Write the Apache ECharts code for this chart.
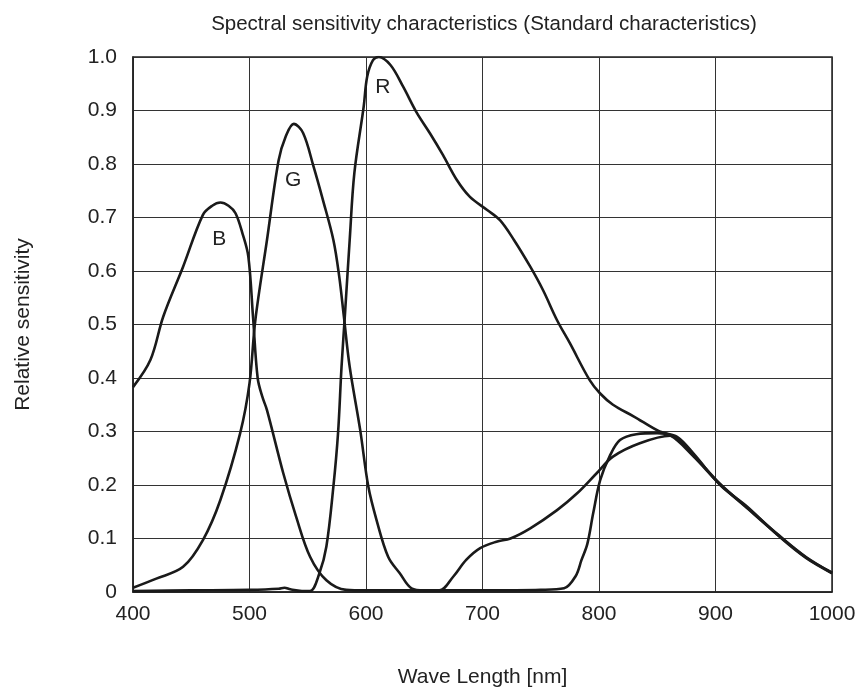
<!DOCTYPE html>
<html>
<head>
<meta charset="utf-8">
<script src="https://cdn.jsdelivr.net/npm/echarts@6/dist/echarts.min.js"></script>
<style>html,body{margin:0;padding:0;background:#fff}#c{width:859px;height:692px}</style>
</head>
<body>
<div id="c"></div>
<script>
// X tick labels (nm) and Y tick labels
const xTicks = [400, 500, 600, 700, 800, 900, 1000];
const yTicks = [0, 0.1, 0.2, 0.3, 0.4, 0.5, 0.6, 0.7, 0.8, 0.9, 1.0];

// B curve
const bX = [400,415,426,443,460,468,475,482,488,494,499,503,507,511,515,529,540,552,566,583,600,650,700,750,770,780,785,790,795,801,809,818,832,850,861,880,904,927,955,978,1000];
const bY = [0.383,0.434,0.515,0.608,0.705,0.722,0.728,0.722,0.708,0.67,0.627,0.515,0.40,0.365,0.34,0.222,0.141,0.066,0.022,0.004,0.003,0.003,0.003,0.004,0.007,0.03,0.06,0.09,0.147,0.209,0.253,0.284,0.295,0.297,0.293,0.256,0.201,0.157,0.104,0.064,0.036];

// G curve
const gX = [400,420,443,460,475,492,500,505,515,525,531,538,546,555,563,572,577,581,586,595,602,609,619,629,639,650,663,675,686,698,712,724,741,764,781,798,812,835,861,880,904,927,955,978,1000];
const gY = [0.008,0.025,0.047,0.097,0.172,0.297,0.39,0.508,0.658,0.807,0.851,0.875,0.858,0.795,0.733,0.658,0.59,0.515,0.421,0.303,0.197,0.135,0.066,0.035,0.007,0.003,0.003,0.029,0.06,0.082,0.094,0.1,0.119,0.153,0.184,0.222,0.253,0.278,0.292,0.258,0.202,0.158,0.105,0.065,0.036];

// R curve
const rX = [400,450,500,525,530,535,545,552,560,566,572,576,579,582,586,590,598,601,606,611,621,632,643,655,666,678,689,704,715,727,741,752,764,775,792,801,812,830,852,867,881,904,927,955,978,1000];
const rY = [0.002,0.003,0.004,0.006,0.008,0.005,0.002,0.002,0.035,0.085,0.197,0.297,0.421,0.521,0.658,0.783,0.907,0.963,0.994,1.0,0.985,0.944,0.898,0.857,0.817,0.77,0.739,0.714,0.695,0.658,0.608,0.564,0.508,0.465,0.396,0.371,0.35,0.328,0.30,0.29,0.259,0.2,0.16,0.103,0.063,0.035];

// Curve labels
const labelNames = ['B', 'G', 'R'];
const labelX = [474, 537.5, 614.5];
const labelY = [0.659, 0.769, 0.943];

const pairs = (xs, ys) => xs.map((x, i) => [x, ys[i]]);
const FONT = '"Liberation Sans", Arial, sans-serif';
const lineStyle = { color: '#1a1a1a', width: 2.6 };

function curve(name, xs, ys, idx) {
  return {
    name: name,
    type: 'line',
    data: pairs(xs, ys),
    showSymbol: false,
    smooth: 0.35,
    lineStyle: lineStyle,
    silent: true,
    markPoint: {
      symbol: 'circle',
      symbolSize: 0,
      silent: true,
      data: [{ coord: [labelX[idx], labelY[idx]], value: labelNames[idx] }],
      label: { show: true, formatter: labelNames[idx], color: '#222', fontSize: 21, fontFamily: FONT, position: 'inside' }
    }
  };
}

const chart = echarts.init(document.getElementById('c'), null, { renderer: 'canvas' });
chart.setOption({
  animation: false,
  backgroundColor: '#fff',
  title: {
    text: 'Spectral sensitivity characteristics (Standard characteristics)',
    left: 479, top: 9, textAlign: 'center',
    textStyle: { fontSize: 20.5, fontWeight: 'normal', color: '#222', fontFamily: FONT }
  },
  grid: { left: 133, right: 27, top: 57, bottom: 100, show: true, borderColor: '#222', borderWidth: 1.5,
    containLabel: false, outerBoundsMode: 'none' },
  xAxis: {
    type: 'value', min: xTicks[0], max: xTicks[xTicks.length - 1], interval: 100,
    name: 'Wave Length [nm]', nameLocation: 'middle', nameGap: 75,
    nameTextStyle: { fontSize: 21, color: '#222', fontFamily: FONT },
    axisLine: { show: true, lineStyle: { color: '#222', width: 1.5 } },
    axisTick: { show: false },
    axisLabel: { color: '#222', fontSize: 21, fontFamily: FONT, margin: 12,
      formatter: v => String(v) },
    splitLine: { show: true, lineStyle: { color: '#333', width: 1 } }
  },
  yAxis: {
    type: 'value', min: yTicks[0], max: yTicks[yTicks.length - 1], interval: 0.1,
    name: 'Relative sensitivity', nameLocation: 'middle', nameGap: 99, nameRotate: 90,
    nameTextStyle: { fontSize: 21, color: '#222', fontFamily: FONT },
    axisLine: { show: true, lineStyle: { color: '#222', width: 1.5 } },
    axisTick: { show: false },
    axisLabel: { color: '#222', fontSize: 21, fontFamily: FONT, margin: 16,
      formatter: v => (Math.abs(v) < 1e-9 ? '0' : v.toFixed(1)) },
    splitLine: { show: true, lineStyle: { color: '#333', width: 1 } }
  },
  series: [curve('B', bX, bY, 0), curve('G', gX, gY, 1), curve('R', rX, rY, 2)]
});
</script>
</body>
</html>
